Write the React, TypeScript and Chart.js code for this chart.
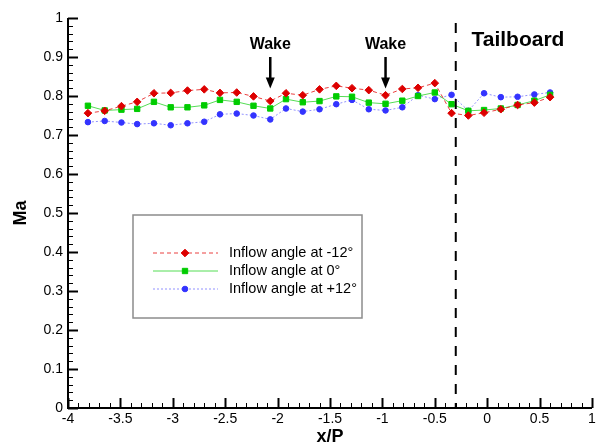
import React, { useEffect, useRef } from 'react';
import { Chart, registerables } from 'chart.js';

Chart.register(...registerables);

// x/P positions of the measurement points
const xPositions = [
  -3.81, -3.65, -3.49, -3.34, -3.18, -3.02, -2.86, -2.70, -2.55, -2.39,
  -2.23, -2.07, -1.92, -1.76, -1.60, -1.44, -1.29, -1.13, -0.97, -0.81,
  -0.66, -0.50, -0.34, -0.18, -0.03, 0.13, 0.29, 0.45, 0.60,
];

// Mach number, inflow angle -12°
const maMinus12 = [
  0.756, 0.762, 0.774, 0.785, 0.807, 0.808, 0.814, 0.817, 0.808, 0.809,
  0.799, 0.787, 0.807, 0.802, 0.817, 0.826, 0.820, 0.815, 0.802, 0.818,
  0.821, 0.833, 0.756, 0.750, 0.757, 0.766, 0.777, 0.783, 0.797,
];

// Mach number, inflow angle 0°
const maZero = [
  0.775, 0.763, 0.765, 0.767, 0.785, 0.771, 0.771, 0.776, 0.790, 0.785,
  0.775, 0.768, 0.792, 0.784, 0.787, 0.799, 0.798, 0.783, 0.780, 0.788,
  0.800, 0.809, 0.779, 0.762, 0.764, 0.768, 0.777, 0.788, 0.803,
];

// Mach number, inflow angle +12°
const maPlus12 = [
  0.733, 0.736, 0.732, 0.728, 0.730, 0.725, 0.730, 0.734, 0.753, 0.755,
  0.750, 0.740, 0.768, 0.760, 0.766, 0.779, 0.790, 0.766, 0.763, 0.771,
  0.802, 0.792, 0.803, 0.762, 0.807, 0.797, 0.798, 0.804, 0.809,
];

const seriesLabels = ['Inflow angle at -12°', 'Inflow angle at 0°', 'Inflow angle at +12°'];

const xTickValues = [-4, -3.5, -3, -2.5, -2, -1.5, -1, -0.5, 0, 0.5, 1];
const yTickValues = [0, 0.1, 0.2, 0.3, 0.4, 0.5, 0.6, 0.7, 0.8, 0.9, 1];

const wakeX = [-2.07, -0.97];
const wakeLabel = 'Wake';
const tailboardX = -0.3;
const tailboardLabel = 'Tailboard';

const FONT = "'Liberation Sans', Arial, sans-serif";

const fmt = (v: number) => String(parseFloat(Number(v).toFixed(2)));

function drawMarker(ctx: CanvasRenderingContext2D, style: string, x: number, y: number, r: number) {
  ctx.beginPath();
  if (style === 'rectRot') {
    ctx.moveTo(x - r, y);
    ctx.lineTo(x, y - r);
    ctx.lineTo(x + r, y);
    ctx.lineTo(x, y + r);
    ctx.closePath();
  } else if (style === 'rect') {
    const s = Math.SQRT1_2 * r;
    ctx.rect(x - s, y - s, 2 * s, 2 * s);
  } else {
    ctx.arc(x, y, r, 0, Math.PI * 2);
  }
  ctx.fill();
  ctx.stroke();
}

const axesPlugin = {
  id: 'insideAxes',
  afterDatasetsDraw(chart: any) {
    const { ctx, chartArea, scales } = chart;
    const xs = scales.x;
    const ys = scales.y;
    ctx.save();
    ctx.strokeStyle = '#000';
    for (let i = 0; i <= 50; i++) {
      const v = -4 + i * 0.1;
      const px = Math.round(xs.getPixelForValue(v)) + 0.5;
      const len = i % 5 === 0 ? 10 : 5;
      ctx.lineWidth = i % 5 === 0 ? 2 : 1;
      ctx.beginPath();
      ctx.moveTo(px, chartArea.bottom);
      ctx.lineTo(px, chartArea.bottom - len);
      ctx.stroke();
    }
    for (let i = 0; i <= 50; i++) {
      const v = i * 0.02;
      const py = Math.round(ys.getPixelForValue(v)) + 0.5;
      const len = i % 5 === 0 ? 10 : 5;
      ctx.lineWidth = i % 5 === 0 ? 2 : 1;
      ctx.beginPath();
      ctx.moveTo(chartArea.left, py);
      ctx.lineTo(chartArea.left + len, py);
      ctx.stroke();
    }
    ctx.lineWidth = 2;
    ctx.beginPath();
    ctx.moveTo(chartArea.left, chartArea.top);
    ctx.lineTo(chartArea.left, chartArea.bottom);
    ctx.lineTo(chartArea.right, chartArea.bottom);
    ctx.stroke();
    ctx.restore();
  },
};

const annotationPlugin = {
  id: 'annotations',
  afterDatasetsDraw(chart: any) {
    const { ctx, chartArea, scales } = chart;
    const xs = scales.x;
    const ys = scales.y;
    ctx.save();
    const tx = xs.getPixelForValue(tailboardX);
    ctx.strokeStyle = '#000';
    ctx.lineWidth = 2;
    ctx.setLineDash([10, 9]);
    ctx.beginPath();
    ctx.moveTo(tx, chartArea.top + 5);
    ctx.lineTo(tx, chartArea.bottom);
    ctx.stroke();
    ctx.setLineDash([]);
    ctx.fillStyle = '#000';
    ctx.font = `bold 21px ${FONT}`;
    ctx.textAlign = 'left';
    ctx.textBaseline = 'middle';
    ctx.fillText(tailboardLabel, xs.getPixelForValue(-0.15), ys.getPixelForValue(0.944));
    wakeX.forEach((wx) => {
      const px = xs.getPixelForValue(wx);
      const yTop = ys.getPixelForValue(0.9);
      const yTip = ys.getPixelForValue(0.819);
      ctx.lineWidth = 2.5;
      ctx.beginPath();
      ctx.moveTo(px, yTop);
      ctx.lineTo(px, yTip - 8);
      ctx.stroke();
      ctx.beginPath();
      ctx.moveTo(px - 4.5, yTip - 11);
      ctx.lineTo(px + 4.5, yTip - 11);
      ctx.lineTo(px, yTip);
      ctx.closePath();
      ctx.fill();
      ctx.font = `bold 16px ${FONT}`;
      ctx.textAlign = 'center';
      ctx.fillText(wakeLabel, px, ys.getPixelForValue(0.932));
    });
    ctx.restore();
  },
};

const legendPlugin = {
  id: 'boxLegend',
  afterDraw(chart: any) {
    const { ctx } = chart;
    const left = 133;
    const top = 215;
    const right = 362;
    const bottom = 318;
    ctx.save();
    ctx.fillStyle = '#fff';
    ctx.fillRect(left, top, right - left, bottom - top);
    ctx.strokeStyle = '#8c8c8c';
    ctx.lineWidth = 1.5;
    ctx.strokeRect(left, top, right - left, bottom - top);
    chart.data.datasets.forEach((ds: any, i: number) => {
      const y = 253 + i * 18;
      ctx.strokeStyle = ds.borderColor;
      ctx.lineWidth = ds.borderWidth;
      ctx.setLineDash(ds.borderDash || []);
      ctx.beginPath();
      ctx.moveTo(153, y);
      ctx.lineTo(218, y);
      ctx.stroke();
      ctx.setLineDash([]);
      ctx.fillStyle = ds.pointBackgroundColor;
      ctx.strokeStyle = ds.pointBorderColor;
      ctx.lineWidth = 1;
      drawMarker(ctx, ds.pointStyle, 185, y, ds.pointRadius);
      ctx.fillStyle = '#000';
      ctx.font = `14.5px ${FONT}`;
      ctx.textAlign = 'left';
      ctx.textBaseline = 'middle';
      ctx.fillText(ds.label, 229, y);
    });
    ctx.restore();
  },
};

export default function App() {
  const ref = useRef<HTMLCanvasElement>(null);
  useEffect(() => {
    const mk = (vals: number[]) => xPositions.map((x, i) => ({ x, y: vals[i] }));
    const chart = new Chart(ref.current as HTMLCanvasElement, {
      type: 'scatter',
      data: {
        datasets: [
          {
            label: seriesLabels[0],
            data: mk(maMinus12),
            showLine: true,
            borderColor: 'rgba(230,30,30,0.85)',
            borderWidth: 1,
            borderDash: [4, 3],
            pointStyle: 'rectRot',
            pointRadius: 3.8,
            pointBackgroundColor: '#dd0000',
            pointBorderColor: '#dd0000',
            pointBorderWidth: 1,
            tension: 0,
          },
          {
            label: seriesLabels[1],
            data: mk(maZero),
            showLine: true,
            borderColor: '#55dd55',
            borderWidth: 1,
            pointStyle: 'rect',
            pointRadius: 3.8,
            pointBackgroundColor: '#00cc00',
            pointBorderColor: '#00cc00',
            pointBorderWidth: 1,
            tension: 0,
          },
          {
            label: seriesLabels[2],
            data: mk(maPlus12),
            showLine: true,
            borderColor: 'rgba(110,110,255,0.75)',
            borderWidth: 1,
            borderDash: [2, 2],
            pointStyle: 'circle',
            pointRadius: 2.8,
            pointBackgroundColor: '#3333ff',
            pointBorderColor: '#3333ff',
            pointBorderWidth: 1,
            tension: 0,
          },
        ] as any,
      },
      options: {
        animation: false,
        responsive: false,
        devicePixelRatio: 1,
        layout: { padding: { top: 18, right: 2, left: 0, bottom: 0 } },
        plugins: { legend: { display: false }, tooltip: { enabled: false } },
        scales: {
          x: {
            type: 'linear',
            min: -4,
            max: 1,
            afterBuildTicks: (s: any) => {
              s.ticks = xTickValues.map((v) => ({ value: v }));
            },
            ticks: {
              callback: (v: any) => fmt(v),
              font: { family: FONT, size: 14 },
              color: '#000',
              padding: 3,
              maxRotation: 0,
              autoSkip: false,
            },
            grid: { display: false, drawTicks: false },
            border: { display: false },
            title: {
              display: true,
              text: 'x/P',
              color: '#000',
              font: { family: FONT, size: 18, weight: 'bold', lineHeight: 1 },
              padding: { top: 0, bottom: 0 },
            },
            afterFit: (s: any) => {
              s.height = 38;
              s.paddingLeft = 0;
              s.paddingRight = 0;
            },
          },
          y: {
            type: 'linear',
            min: 0,
            max: 1,
            afterBuildTicks: (s: any) => {
              s.ticks = yTickValues.map((v) => ({ value: v }));
            },
            ticks: {
              callback: (v: any) => fmt(v),
              font: { family: FONT, size: 14 },
              color: '#000',
              padding: 5,
              autoSkip: false,
            },
            grid: { display: false, drawTicks: false },
            border: { display: false },
            title: {
              display: true,
              text: 'Ma',
              color: '#000',
              font: { family: FONT, size: 18, weight: 'bold', lineHeight: 1 },
              padding: { top: 12, bottom: 0 },
            },
            afterFit: (s: any) => {
              s.width = 68;
              s.paddingTop = 0;
              s.paddingBottom = 0;
            },
          },
        },
      } as any,
      plugins: [axesPlugin, annotationPlugin, legendPlugin],
    });
    return () => chart.destroy();
  }, []);
  return (
    <div style={{ position: 'fixed', left: 0, top: 0, width: 597, height: 446, background: '#fff' }}>
      <canvas ref={ref} width={597} height={446} style={{ width: 597, height: 446, display: 'block' }} />
    </div>
  );
}
